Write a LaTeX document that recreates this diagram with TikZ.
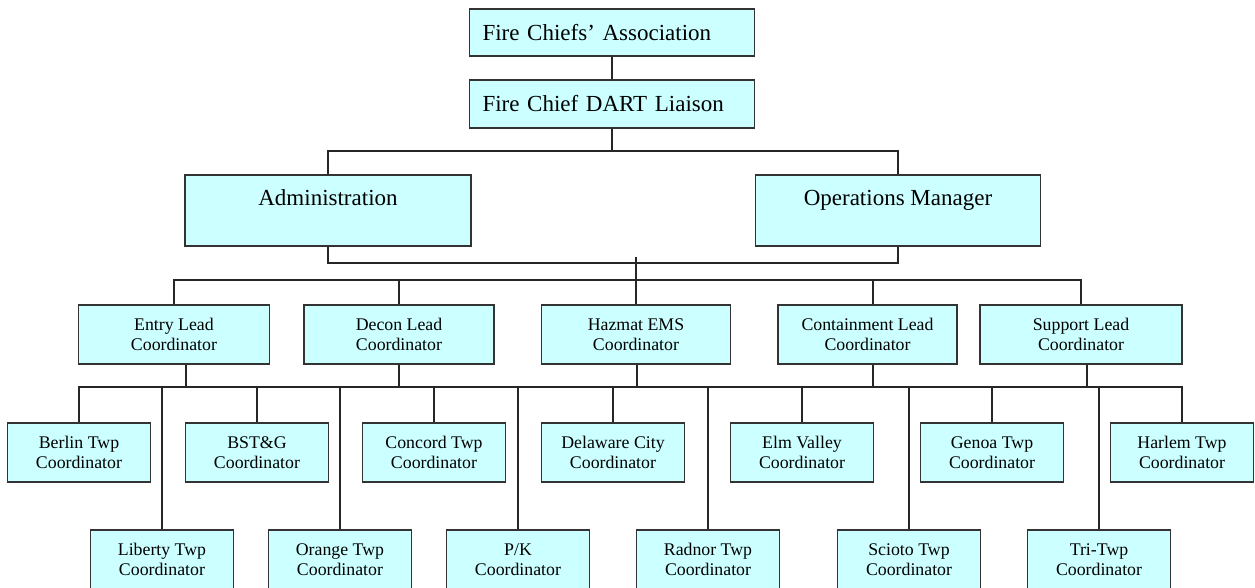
\documentclass[tikz,border=0pt]{standalone}
\usepackage{fontspec}
\setmainfont{Liberation Serif}
\definecolor{boxfill}{RGB}{204,255,255}

\begin{document}
\begin{tikzpicture}[x=1pt,y=-1pt]
% 1 = 1px, y runs down
    \def\YTOP{32.5}
    \def\YLIAISON{104}
    \def\YMGR{210.5}
    \def\YLEAD{334.5}
    \def\YTWPONE{452.5}
    \def\YTWPTWO{559.5}

    \tikzset{
      chart/.style={draw=black!80, fill=boxfill, line width=1.4pt, inner sep=0pt},
      topbox/.style={chart, minimum height=47pt, text width=259pt,
        inner xsep=13pt, align=left, font=\fontsize{23}{27}\selectfont},
      mgrbox/.style={chart, minimum width=286pt, minimum height=71pt,
        text height=16pt, text depth=26pt, font=\fontsize{23}{27}\selectfont},
      leadbox/.style={chart, minimum height=59pt, align=center,
        font=\fontsize{17.8}{20.5}\selectfont},
      twpbox/.style={leadbox, minimum width=143pt},
      link/.style={line width=1.4pt, draw=black!85},
    }

    \useasboundingbox (0,0) rectangle (1255,588);

    % TOP
    \node[topbox] (assoc) at (612,\YTOP) {Fire Chiefs' Association};
    \node[topbox, minimum height=48pt] (liaison) at (612,\YLIAISON)
        {Fire Chief DART Liaison};

    % MANAGERS
    \node[mgrbox] (admin) at (328,\YMGR) {Administration};
    \node[mgrbox, minimum width=285pt] (ops) at (898,\YMGR)
        {Operations Manager};

    % LEAD COORDINATORS
    \node[leadbox, minimum width=191pt] (entry) at (174,\YLEAD)
        {Entry Lead\\Coordinator};
    \node[leadbox, minimum width=190pt] (decon) at (399,\YLEAD)
        {Decon Lead\\Coordinator};
    \node[leadbox, minimum width=189pt] (hazmat) at (636,\YLEAD)
        {Hazmat EMS\\Coordinator};
    \node[leadbox, minimum width=179pt] (contain) at (867.5,\YLEAD)
        {Containment Lead\\Coordinator};
    \node[leadbox, minimum width=202pt] (support) at (1081,\YLEAD)
        {Support Lead\\Coordinator};

    % TOWNSHIPS, upper row
    \foreach \n/\x/\txt in {berlin/79/Berlin Twp, bstg/257/BST\&G,
        concord/434/Concord Twp, delaware/613/Delaware City,
        elm/802/Elm Valley, genoa/992/Genoa Twp, harlem/1182/Harlem Twp}
      \node[twpbox] (\n) at (\x,\YTWPONE) {\txt\\Coordinator};

    % TOWNSHIPS, lower row
    \foreach \n/\x/\txt in {liberty/162/Liberty Twp, orange/340/Orange Twp,
        pk/518/{P/K}, radnor/708/Radnor Twp, scioto/909/Scioto Twp,
        tritwp/1099/Tri-Twp}
      \node[twpbox] (\n) at (\x,\YTWPTWO) {\txt\\Coordinator};

    % BUS LINES
    \coordinate (mgrbus) at (612,151);
    \coordinate (midbus) at (636,263);
    \coordinate (leadbus) at (636,280);
    \coordinate (twpbus) at (636,387);

    \draw[link] (assoc) -- (liaison);
    \draw[link] (liaison) -- (mgrbus);
    \draw[link] (admin.north) |- (mgrbus) -| (ops.north);
    \draw[link] (admin.south) |- (midbus) -| (ops.south);
    \draw[link] ([yshift=6pt]midbus) -- (leadbus);

    \draw[link] (entry.north) |- (leadbus) -| (support.north);
    \draw[link] (decon.north) -- (decon.north |- leadbus);
    \draw[link] (hazmat.north) -- (hazmat.north |- leadbus);
    \draw[link] ([xshift=5.5pt]contain.north)
        -- ([xshift=5.5pt]contain.north |- leadbus);

    \foreach \n/\dx in {entry/12, decon/0, hazmat/1, contain/5.5, support/6}
      \draw[link] ([xshift=\dx pt]\n.south) -- ([xshift=\dx pt]\n.south |- twpbus);

    \draw[link] (berlin.north) |- (twpbus) -| (harlem.north);
    \foreach \n in {bstg, concord, delaware, elm, genoa,
        liberty, orange, pk, radnor, scioto, tritwp}
      \draw[link] (\n.north) -- (\n.north |- twpbus);

\end{tikzpicture}
\end{document}
